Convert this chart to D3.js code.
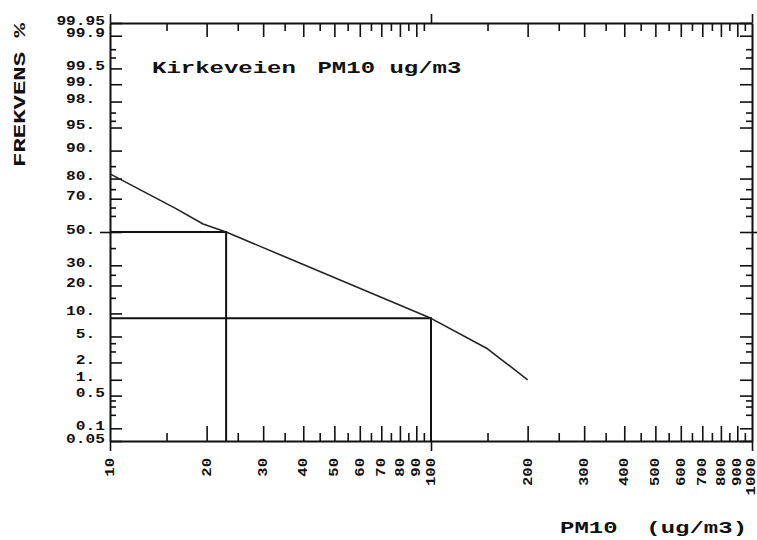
<!DOCTYPE html>
<html>
<head>
<meta charset="utf-8">
<script src="https://cdn.jsdelivr.net/npm/d3@7"></script>
<style>
  html, body { margin: 0; padding: 0; background: #fff; }
  svg { display: block; }
  text { font-family: "Liberation Mono", "DejaVu Sans Mono", monospace; fill: #111; font-weight: bold; }
</style>
</head>
<body>
<svg id="chart" width="757" height="540"></svg>
<script>
// ---- data ----
const pm10 = [10, 16, 19.5, 23, 100, 150, 200];        // ug/m3
const freq = [82, 64.5, 55, 50, 8.7, 3.3, 1.0];        // exceedance frequency %
const refValues = [23, 100];                           // ug/m3 marked by guide lines
const refFreq = [50, 8.7];                             // % level of the guide lines

const yMajor = [0.05, 0.1, 0.5, 1, 2, 5, 10, 20, 30, 50, 70, 80, 90, 95, 98, 99, 99.5, 99.9, 99.95];
const yMinor = [0.2, 0.3, 0.4, 3, 4, 15, 25, 40, 60, 65, 75, 85, 96, 97, 99.7, 99.8];
const xMajor = [20, 30, 40, 50, 60, 70, 80, 90, 200, 300, 400, 500, 600, 700, 800, 900];
const xMinor = [15, 25, 35, 45, 55, 65, 75, 85, 95, 150, 250, 350, 450, 550, 650, 750, 850, 950];
const xDecades = [10, 100, 1000];
const xLabels = [10, 20, 30, 40, 50, 60, 70, 80, 90, 100, 200, 300, 400, 500, 600, 700, 800, 900, 1000];

const titleText = "Kirkeveien";
const titleText2 = "PM10";
const titleText3 = "ug/m3";
const yTitle = "FREKVENS %";
const xTitle = "PM10\u00a0\u00a0(ug/m3)";

// ---- layout ----
const L = 110, R = 752, T = 23, B = 441;

// inverse standard normal CDF (Acklam)
function normInv(p) {
  const a = [-3.969683028665376e+01, 2.209460984245205e+02, -2.759285104469687e+02, 1.383577518672690e+02, -3.066479806614716e+01, 2.506628277459239e+00];
  const b = [-5.447609879822406e+01, 1.615858368580409e+02, -1.556989798598866e+02, 6.680131188771972e+01, -1.328068155288572e+01];
  const c = [-7.784894002430293e-03, -3.223964580411365e-01, -2.400758277161838e+00, -2.549732539343734e+00, 4.374664141464968e+00, 2.938163982698783e+00];
  const d = [7.784695709041462e-03, 3.224671290700398e-01, 2.445134137142996e+00, 3.754408661907416e+00];
  const pl = 0.02425, ph = 1 - pl;
  let q, r;
  if (p < pl) {
    q = Math.sqrt(-2 * Math.log(p));
    return (((((c[0]*q+c[1])*q+c[2])*q+c[3])*q+c[4])*q+c[5]) / ((((d[0]*q+d[1])*q+d[2])*q+d[3])*q+1);
  } else if (p <= ph) {
    q = p - 0.5; r = q * q;
    return (((((a[0]*r+a[1])*r+a[2])*r+a[3])*r+a[4])*r+a[5])*q / (((((b[0]*r+b[1])*r+b[2])*r+b[3])*r+b[4])*r+1);
  } else {
    q = Math.sqrt(-2 * Math.log(1 - p));
    return -(((((c[0]*q+c[1])*q+c[2])*q+c[3])*q+c[4])*q+c[5]) / ((((d[0]*q+d[1])*q+d[2])*q+d[3])*q+1);
  }
}

const x = d3.scaleLog().domain([10, 1000]).range([L, R]);
const zScale = d3.scaleLinear().domain([normInv(0.0005), normInv(0.9995)]).range([B, T]);
function y(p) { return zScale(normInv(p / 100)); }
y.copy = () => y;
y.range = () => zScale.range();
y.domain = () => [0.05, 99.95];

const svg = d3.select("#chart");
const ink = "#111";

function styleAxis(g, w) {
  g.selectAll("path.domain").attr("stroke", ink).attr("stroke-width", w);
  g.selectAll(".tick line").attr("stroke", ink).attr("stroke-width", 1.6);
}

// ---- frame + ticks ----
// left: major/minor ticks inward
svg.append("g").attr("transform", `translate(${L},0)`)
  .call(d3.axisRight(y).tickValues(yMajor).tickSize(12).tickSizeOuter(0).tickFormat(""))
  .call(g => styleAxis(g, 2));
svg.append("g").attr("transform", `translate(${L},0)`)
  .call(d3.axisRight(y).tickValues(yMinor).tickSize(6).tickSizeOuter(0).tickFormat(""))
  .call(g => g.select("path.domain").remove()).call(g => styleAxis(g, 2));
// left outward tick at 50 + labels
svg.append("g").attr("transform", `translate(${L},0)`)
  .call(d3.axisLeft(y).tickValues([50]).tickSize(10).tickSizeOuter(0).tickFormat(""))
  .call(g => g.select("path.domain").remove()).call(g => styleAxis(g, 2));
svg.append("g").attr("transform", `translate(${L},0)`)
  .call(d3.axisLeft(y).tickValues(yMajor).tickSize(0).tickPadding(5)
        .tickFormat(p => Number.isInteger(p) ? p + ".\u00a0" : String(p)))
  .call(g => g.select("path.domain").remove())
  .call(g => g.selectAll("text")
     .attr("x", null).attr("dy", "0.35em")
     .attr("transform", "translate(-5,-3) scale(1.35,1)")
     .attr("font-size", 12).attr("fill", ink).attr("text-anchor", "end")
     .style("font-family", '"Liberation Mono", monospace'));

// right: ticks inward
svg.append("g").attr("transform", `translate(${R},0)`)
  .call(d3.axisLeft(y).tickValues(yMajor).tickSize(12).tickSizeOuter(0).tickFormat(""))
  .call(g => styleAxis(g, 2));
svg.append("g").attr("transform", `translate(${R},0)`)
  .call(d3.axisLeft(y).tickValues(yMinor).tickSize(6).tickSizeOuter(0).tickFormat(""))
  .call(g => g.select("path.domain").remove()).call(g => styleAxis(g, 2));
svg.append("g").attr("transform", `translate(${R},0)`)
  .call(d3.axisRight(y).tickValues([50]).tickSize(8).tickSizeOuter(0).tickFormat(""))
  .call(g => g.select("path.domain").remove()).call(g => styleAxis(g, 2));

// top: ticks downward (inward) + decades outward
svg.append("g").attr("transform", `translate(0,${T})`)
  .call(d3.axisBottom(x).tickValues(xMajor).tickSize(14).tickSizeOuter(0).tickFormat(""))
  .call(g => styleAxis(g, 2));
svg.append("g").attr("transform", `translate(0,${T})`)
  .call(d3.axisBottom(x).tickValues(xMinor).tickSize(8).tickSizeOuter(0).tickFormat(""))
  .call(g => g.select("path.domain").remove()).call(g => styleAxis(g, 2));
svg.append("g").attr("transform", `translate(0,${T})`)
  .call(d3.axisTop(x).tickValues(xDecades).tickSize(9).tickSizeOuter(0).tickFormat(""))
  .call(g => g.select("path.domain").remove()).call(g => styleAxis(g, 2));

// bottom: ticks upward (inward) + decades outward + rotated labels
svg.append("g").attr("transform", `translate(0,${B})`)
  .call(d3.axisTop(x).tickValues(xMajor).tickSize(15).tickSizeOuter(0).tickFormat(""))
  .call(g => styleAxis(g, 2));
svg.append("g").attr("transform", `translate(0,${B})`)
  .call(d3.axisTop(x).tickValues(xMinor).tickSize(8).tickSizeOuter(0).tickFormat(""))
  .call(g => g.select("path.domain").remove()).call(g => styleAxis(g, 2));
svg.append("g").attr("transform", `translate(0,${B})`)
  .call(d3.axisBottom(x).tickValues(xDecades).tickSize(10).tickSizeOuter(0).tickFormat(""))
  .call(g => g.select("path.domain").remove()).call(g => styleAxis(g, 2));
svg.append("g").attr("transform", `translate(0,${B})`)
  .call(d3.axisBottom(x).tickValues(xLabels).tickSize(0).tickFormat(d => String(d)))
  .call(g => g.select("path.domain").remove())
  .call(g => g.selectAll("text")
     .attr("y", null).attr("dy", "0.3em")
     .attr("transform", (d, i) => `translate(${d === 1000 ? -1.5 : 0},17) rotate(-90) scale(1.3,1)`)
     .attr("font-size", 12).attr("fill", ink).attr("text-anchor", "end")
     .style("font-family", '"Liberation Mono", monospace'));

// ---- guide lines ----
const guide = d3.line().x(d => x(d[0])).y(d => y(d[1]));
refValues.forEach((v, i) => {
  svg.append("path")
    .attr("d", guide([[10, refFreq[i]], [v, refFreq[i]], [v, 0.05]]))
    .attr("fill", "none").attr("stroke", ink).attr("stroke-width", 2);
});

// ---- data line ----
const line = d3.line().x((d, i) => x(pm10[i])).y((d, i) => y(freq[i]));
svg.append("path")
  .attr("d", line(pm10))
  .attr("fill", "none").attr("stroke", "#222").attr("stroke-width", 1.6)
  .attr("stroke-linejoin", "round");

// ---- titles ----
const title = svg.append("text")
  .attr("transform", "translate(152,73) scale(1.5,1)")
  .attr("font-size", 16);
title.append("tspan").text(titleText);
title.append("tspan").attr("dx", 14.4).text(titleText2);
title.append("tspan").attr("dx", 9.6).text(titleText3);

svg.append("text")
  .attr("transform", "translate(25,167) rotate(-90) scale(1.5,1)")
  .attr("font-size", 16)
  .text(yTitle);

svg.append("text")
  .attr("transform", "translate(560,533) scale(1.5,1)")
  .attr("font-size", 16)
  .style("white-space", "pre")
  .text(xTitle);
</script>
</body>
</html>
